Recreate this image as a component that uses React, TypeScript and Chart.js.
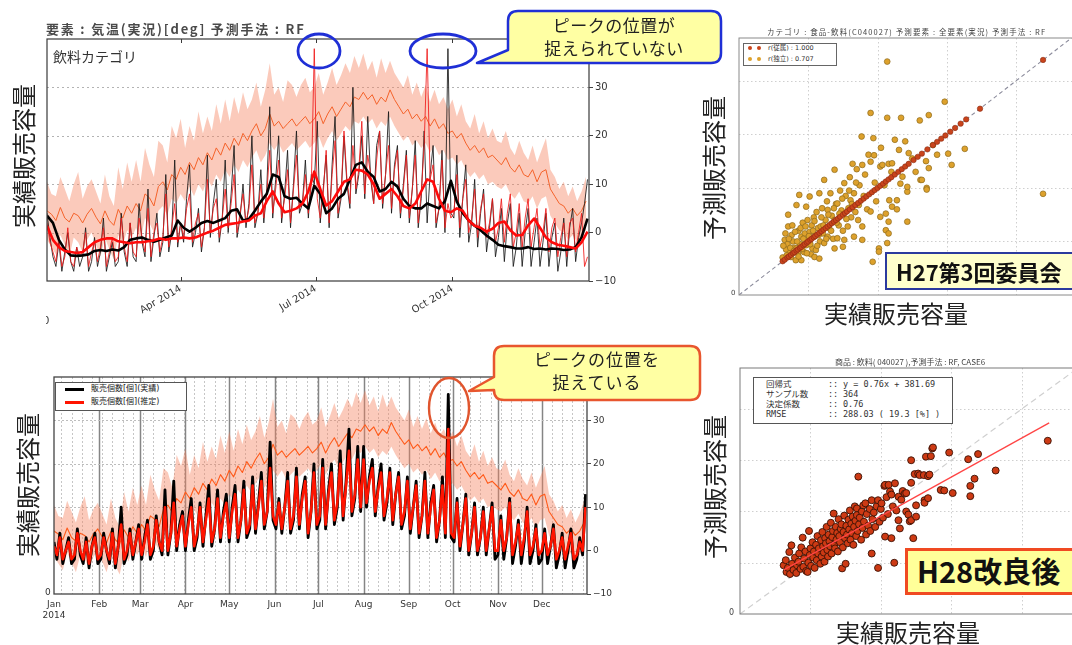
import React, { useEffect, useRef } from 'react';
import { Chart, registerables } from 'chart.js';
Chart.register(...registerables);

// ---------------- data ----------------
// daily temperature 2014, sampled every 3 days (deg C)
const TEMP_STEP = 3;
const TEMP_MEAN = [
  4.5, 3.8, 2.5, 5.2, 3.0, 2.2, 4.0, 3.5, 2.0, 3.8, 5.0,
  3.2, 1.8, 4.5, 2.5, 1.5, 4.8, 3.0, 5.5, 4.0,
  6.0, 4.5, 8.0, 7.2, 5.5, 9.5, 10.5, 8.8, 12.0, 11.0,
  13.5, 12.0, 14.5, 13.0, 15.5, 14.0, 16.5, 15.0, 17.5, 16.0,
  18.5, 17.0, 19.5, 18.0, 20.5, 19.0, 21.0, 22.5, 20.0, 21.5,
  24.5, 22.0, 23.0, 21.5, 22.5, 23.5, 22.0, 23.0, 24.0, 22.5,
  23.5, 25.0, 22.5, 24.5, 26.0, 24.0, 25.5, 27.0, 26.0, 28.0, 27.5,
  29.0, 27.5, 28.5, 26.5, 28.0, 27.0, 29.5, 27.5, 26.0, 24.5,
  25.5, 23.5, 24.5, 23.0, 24.0, 22.0, 23.5, 21.5, 22.5, 20.5,
  21.0, 19.5, 20.5, 18.5, 17.0, 18.0, 16.5, 17.5, 15.5, 16.0, 15.0,
  14.0, 15.5, 13.5, 12.5, 14.0, 12.0, 11.5, 13.0, 10.5, 12.5,
  13.0, 9.0, 7.5, 6.0, 5.5, 4.0, 5.0, 3.5, 4.5, 6.5,
];
const TEMP_HIGH = [
  10.5, 8.0, 7.5, 11.5, 9.0, 6.5, 10.0, 12.5, 7.0, 9.5, 11.0,
  8.5, 6.0, 12.0, 7.5, 5.5, 13.5, 9.0, 14.5, 10.5,
  15.0, 10.5, 17.5, 14.0, 11.5, 19.0, 18.0, 14.5, 22.0, 19.5,
  23.5, 17.5, 22.0, 19.0, 25.0, 20.5, 24.0, 21.0, 26.5, 22.5,
  27.5, 23.0, 28.0, 24.5, 29.0, 25.5, 27.5, 31.0, 26.0, 29.5,
  35.0, 28.5, 30.0, 27.0, 31.5, 30.5, 28.0, 30.5, 32.0, 29.0,
  30.0, 33.0, 28.5, 31.0, 34.0, 30.5, 32.5, 35.0, 33.0, 36.5, 34.0,
  37.0, 33.5, 35.5, 32.0, 36.0, 33.0, 35.5, 33.0, 31.5, 30.0,
  32.5, 28.5, 31.0, 28.0, 30.5, 27.0, 29.5, 26.5, 28.0, 25.5,
  27.5, 24.0, 26.5, 23.0, 21.5, 24.5, 20.5, 23.0, 19.5, 21.5, 19.0,
  18.5, 21.0, 17.5, 16.0, 19.0, 16.5, 15.0, 18.0, 14.5, 17.0,
  19.5, 13.0, 11.5, 9.0, 10.5, 7.5, 9.5, 6.5, 8.5, 11.5,
];
const TEMP_LOW = [
  -1.5, -3.0, -4.5, -0.5, -2.5, -5.0, -1.0, -2.0, -4.0, -1.5, 0.0,
  -2.5, -5.0, -1.0, -3.5, -5.5, -0.5, -2.5, 0.5, -1.0,
  1.0, -1.5, 3.0, 2.0, 0.0, 4.5, 5.5, 3.5, 7.0, 6.0,
  8.0, 6.5, 9.5, 7.5, 10.0, 8.5, 11.0, 9.5, 12.0, 10.5,
  13.0, 11.5, 14.0, 12.5, 15.0, 13.5, 15.5, 17.0, 14.5, 16.0,
  18.5, 17.0, 18.5, 16.5, 17.5, 18.5, 17.0, 18.0, 19.0, 17.5,
  18.5, 20.0, 17.5, 19.5, 21.0, 19.0, 20.5, 22.0, 21.0, 23.0, 22.5,
  24.0, 22.5, 23.5, 21.5, 23.0, 22.0, 24.0, 22.0, 20.5, 19.0,
  20.0, 18.0, 19.0, 17.5, 18.5, 16.5, 18.0, 16.0, 17.0, 15.0,
  15.5, 14.0, 15.0, 13.0, 11.5, 12.5, 11.0, 12.0, 10.0, 10.5, 9.5,
  9.0, 10.0, 8.0, 7.0, 8.5, 6.5, 6.0, 7.5, 5.0, 7.0,
  7.5, 3.5, 2.0, 0.5, 0.0, -1.5, -0.5, -2.0, -1.0, 0.5,
];

// sales volume (relative units, 0 = bottom of the plot), sampled every 2 days
const SALES_STEP = 2;
const TOP_ACTUAL = [
  14, 9, 5, 3, 8, 2, 6, 10, 4, 2, 7, 3, 5, 11, 2, 4,
  9, 3, 6, 13, 2, 5, 8, 3, 4, 14, 6, 3, 12, 5,
  4, 16, 8, 5, 19, 4, 9, 14, 5, 8, 22, 6, 10, 25, 7,
  12, 8, 17, 24, 7, 10, 15, 6, 11, 26, 9, 16, 21, 8, 13,
  25, 10, 18, 28, 9, 13, 20, 11, 16, 30, 11, 14, 23, 12, 19, 36,
  13, 21, 30, 12, 18, 27, 11, 20, 31, 14, 16, 25, 13, 22, 20,
  33, 12, 19, 26, 11, 24, 34, 13, 17, 30, 20, 15, 40, 18, 22,
  30, 17, 34, 21, 16, 28, 31, 15, 22, 35, 14, 24, 28, 13, 20, 27,
  12, 19, 29, 11, 17, 31, 12, 22, 28, 11, 15, 27, 10, 48, 14,
  13, 26, 9, 17, 24, 8, 12, 21, 7, 14, 19, 6, 11, 17, 5,
  9, 15, 4, 12, 16, 3, 7, 14, 3, 10, 15, 3, 8, 13, 3,
  8, 14, 3, 9, 12, 2, 6, 13, 3, 11, 15, 4, 9, 12, 16, 21,
];
const TOP_PRED = [
  12, 8, 6, 4, 9, 3, 5, 11, 4, 3, 7, 5, 6, 10, 3, 6,
  8, 4, 7, 11, 3, 6, 9, 4, 5, 13, 7, 4, 12, 6,
  5, 13, 9, 6, 15, 5, 10, 12, 6, 9, 18, 7, 11, 16, 8,
  12, 9, 15, 18, 8, 12, 14, 7, 11, 21, 10, 15, 17, 9, 13,
  19, 11, 16, 22, 10, 14, 18, 12, 15, 24, 12, 14, 20, 13, 18, 27,
  14, 19, 25, 13, 17, 23, 12, 19, 26, 15, 16, 22, 14, 20, 48,
  17, 13, 18, 27, 12, 22, 29, 14, 18, 31, 21, 16, 28, 19, 23,
  33, 18, 26, 22, 16, 25, 31, 16, 22, 28, 15, 23, 27, 14, 19, 26,
  13, 19, 26, 12, 18, 28, 48, 21, 24, 12, 15, 25, 11, 16, 13,
  14, 22, 11, 17, 21, 10, 13, 19, 9, 15, 18, 9, 12, 17, 8,
  11, 17, 8, 14, 18, 7, 10, 16, 7, 13, 17, 7, 11, 15, 7,
  10, 15, 6, 11, 13, 5, 9, 12, 5, 12, 13, 6, 10, 14, 3, 5,
];
// moving averages, every 4 days
const MA_STEP = 4;
const TOP_ACTUAL_MA = [
  13.5, 12.0, 8.5, 6.5, 5.3, 5.2, 5.3, 5.5, 6.2, 6.4,
  6.2, 6.5, 6.3, 7.0, 8.5, 8.8, 9.0, 8.5, 8.1, 8.5,
  9.0, 9.4, 12.5, 11.0, 10.2, 11.0, 12.0, 12.4, 12.0, 12.5,
  13.0, 14.5, 14.8, 12.5, 12.8, 14.5, 16.4, 18.0, 22.0, 21.5,
  17.5, 17.0, 17.2, 16.0, 15.0, 19.7, 18.0, 14.0, 15.0, 17.0,
  18.0, 21.0, 24.0, 24.5, 22.6, 21.5, 18.5, 19.0, 20.5, 19.5,
  17.0, 15.5, 15.0, 15.0, 16.0, 15.5, 15.0, 16.5, 20.7, 16.4,
  14.0, 12.5, 11.4, 10.5, 9.4, 8.5, 7.5, 7.2, 7.0, 6.7,
  6.7, 7.0, 6.6, 6.7, 6.5, 6.7, 6.6, 6.4, 6.5, 7.0,
  9.0, 12.9,
];
const TOP_PRED_MA = [
  11.4, 8.5, 7.0, 6.2, 6.0, 5.8, 6.0, 7.0, 8.0, 8.5,
  8.8, 8.8, 8.2, 8.0, 7.8, 8.0, 8.0, 8.2, 8.4, 8.8,
  8.5, 8.8, 8.8, 9.0, 8.8, 9.0, 9.5, 10.0, 10.4, 11.0,
  11.6, 11.8, 12.0, 12.3, 12.5, 13.5, 14.0, 16.5, 18.5, 16.0,
  14.2, 14.5, 15.0, 16.0, 18.5, 22.6, 19.0, 15.6, 16.5, 18.5,
  20.5, 21.0, 23.0, 22.8, 22.0, 20.0, 17.0, 18.0, 19.0, 17.5,
  15.5, 15.0, 16.0, 18.5, 21.0, 20.5, 17.0, 14.5, 14.2, 15.0,
  14.5, 12.5, 11.4, 11.0, 10.2, 10.8, 12.0, 12.3, 10.5, 9.4,
  9.5, 11.5, 12.9, 11.0, 9.0, 8.0, 7.5, 7.3, 7.0, 6.7,
  8.0, 10.2,
];
const BOT_ACTUAL = [
  12, 8, 14, 7, 10, 13, 7, 8, 15, 9, 7, 13, 6, 11, 14, 7,
  8, 14, 10, 7, 15, 6, 11, 20, 7, 9, 15, 8, 12, 16,
  8, 13, 17, 8, 10, 18, 12, 9, 24, 9, 14, 26, 10, 16, 19,
  10, 17, 22, 10, 13, 21, 11, 18, 25, 11, 15, 24, 12, 19, 23,
  12, 20, 25, 12, 17, 26, 13, 15, 27, 14, 21, 28, 15, 19, 35, 17,
  15, 22, 14, 20, 28, 14, 17, 29, 15, 23, 27, 13, 19, 30, 15,
  17, 31, 15, 24, 30, 16, 20, 33, 17, 26, 38, 18, 22, 34, 19,
  34, 20, 27, 31, 18, 25, 30, 17, 21, 29, 16, 23, 28, 15, 18, 27,
  14, 20, 26, 13, 18, 28, 13, 21, 25, 12, 17, 27, 13, 46, 13,
  12, 22, 10, 16, 23, 9, 14, 21, 9, 13, 20, 9, 15, 21, 8,
  9, 18, 8, 13, 22, 7, 11, 17, 7, 12, 20, 7, 10, 16, 7,
  8, 15, 7, 11, 16, 6, 9, 14, 6, 10, 15, 6, 8, 13, 9, 23,
];
const BOT_PRED = [
  11, 9, 13, 8, 10, 12, 8, 9, 14, 10, 8, 12, 7, 11, 13, 8,
  9, 13, 10, 8, 14, 7, 11, 16, 8, 10, 14, 9, 12, 15,
  9, 12, 16, 9, 11, 17, 12, 10, 20, 10, 14, 21, 11, 15, 18,
  11, 16, 20, 11, 14, 20, 12, 17, 22, 12, 15, 22, 13, 18, 21,
  13, 19, 23, 13, 17, 24, 14, 16, 25, 15, 20, 26, 16, 19, 29, 18,
  16, 21, 15, 20, 26, 15, 18, 27, 16, 22, 26, 14, 19, 28, 16,
  18, 29, 16, 23, 28, 17, 21, 30, 18, 25, 33, 19, 23, 31, 20,
  31, 21, 26, 29, 19, 24, 28, 18, 22, 28, 17, 23, 27, 16, 19, 26,
  15, 20, 25, 14, 18, 26, 14, 20, 24, 13, 17, 25, 14, 38, 14,
  13, 21, 11, 16, 22, 10, 14, 20, 10, 13, 19, 10, 15, 20, 10,
  10, 17, 10, 13, 21, 9, 12, 16, 9, 13, 19, 9, 11, 15, 9,
  10, 14, 9, 11, 15, 8, 10, 13, 8, 11, 14, 8, 9, 12, 10, 20,
];

// axis ticks
const TOP_TICK_DAYS = [90, 181, 273];
const TOP_TICK_LABELS = ['Apr 2014', 'Jul 2014', 'Oct 2014'];
const MONTH_DAYS = [0, 31, 59, 90, 120, 151, 181, 212, 243, 273, 304, 334];
const MONTH_LABELS = ['Jan', 'Feb', 'Mar', 'Apr', 'May', 'Jun', 'Jul', 'Aug', 'Sep', 'Oct', 'Nov', 'Dec'];
const TEMP_TICKS = [-10, 0, 10, 20, 30];
const SCATTER_GRID = [1, 2, 3, 4];

// H27 scatter (actual, predicted) in thousands
const H27_DEP = [
  0.63, 0.66, 0.70, 0.72, 0.75, 0.78, 0.80, 0.83, 0.85, 0.88, 0.90, 0.93, 0.95, 0.98, 1.00,
  1.03, 1.05, 1.08, 1.10, 1.13, 1.16, 1.19, 1.22, 1.25, 1.28, 1.31, 1.34, 1.37, 1.40, 1.43,
  1.46, 1.50, 1.53, 1.56, 1.60, 1.64, 1.68, 1.72, 1.76, 1.80, 1.84, 1.88, 1.92, 1.96, 2.00,
  2.04, 2.08, 2.12, 2.16, 2.20, 2.25, 2.30, 2.35, 2.40, 2.45, 2.52, 2.58, 2.64, 2.72, 2.80,
  2.86, 2.92, 2.98, 3.05, 3.12, 3.20, 3.28, 3.48, 4.39,
];
const H27_IND = [
  [0.63, 0.70], [0.66, 1.03], [0.68, 0.85], [0.70, 0.95], [0.71, 1.28], [0.71, 1.50], [0.73, 0.78],
  [0.75, 0.71], [0.76, 1.12], [0.78, 1.00], [0.80, 0.88], [0.82, 0.65], [0.83, 0.87], [0.83, 1.68],
  [0.85, 0.78], [0.86, 1.20], [0.87, 1.87], [0.88, 0.95], [0.90, 1.09], [0.90, 0.65], [0.92, 1.35],
  [0.94, 0.80], [0.95, 1.15], [0.97, 0.93], [0.97, 1.65], [0.99, 1.40], [1.00, 1.05], [1.02, 1.84],
  [1.02, 1.18], [1.04, 0.76], [1.05, 1.30], [1.06, 0.87], [1.08, 1.45], [1.09, 0.71], [1.10, 1.10],
  [1.11, 0.84], [1.12, 1.55], [1.14, 1.25], [1.16, 0.68], [1.16, 1.90], [1.17, 1.00], [1.18, 1.28],
  [1.20, 1.62], [1.21, 1.15], [1.23, 0.97], [1.23, 2.15], [1.25, 1.40], [1.27, 1.75], [1.28, 1.09],
  [1.28, 1.59], [1.30, 1.25], [1.32, 1.90], [1.34, 1.48], [1.36, 1.05], [1.38, 0.87], [1.38, 1.40],
  [1.38, 2.34], [1.40, 1.70], [1.42, 1.71], [1.42, 1.06], [1.44, 1.30], [1.46, 1.95], [1.48, 1.58],
  [1.50, 0.90], [1.50, 1.20], [1.52, 1.03], [1.52, 2.09], [1.54, 1.85], [1.57, 1.28], [1.58, 1.62],
  [1.60, 2.20], [1.61, 1.77], [1.62, 1.45], [1.64, 2.45], [1.66, 1.09], [1.66, 1.90], [1.68, 1.55],
  [1.70, 2.35], [1.73, 1.68], [1.74, 2.05], [1.77, 2.96], [1.78, 1.28], [1.78, 1.03], [1.78, 2.43],
  [1.80, 1.85], [1.82, 2.25], [1.85, 1.60], [1.87, 2.62], [1.90, 1.56], [1.90, 2.49], [1.90, 3.40],
  [1.93, 0.62], [1.94, 2.93], [1.95, 2.61], [1.96, 2.10], [1.98, 1.75], [2.02, 0.87], [2.02, 0.81],
  [2.04, 1.46], [2.04, 2.40], [2.05, 2.75], [2.07, 2.43], [2.10, 2.05], [2.12, 1.21], [2.12, 1.52],
  [2.14, 0.97], [2.14, 3.31], [2.14, 4.36], [2.16, 1.15], [2.16, 1.37], [2.16, 2.45], [2.17, 1.77],
  [2.20, 2.30], [2.21, 1.65], [2.21, 2.46], [2.25, 2.90], [2.28, 1.60], [2.28, 1.77], [2.31, 2.71],
  [2.33, 2.08], [2.34, 3.31], [2.36, 2.21], [2.40, 2.87], [2.43, 1.37], [2.43, 1.93], [2.43, 2.02],
  [2.45, 2.65], [2.50, 2.55], [2.55, 2.30], [2.61, 3.26], [2.62, 2.15], [2.64, 2.15], [2.70, 2.50],
  [2.71, 2.00], [2.71, 1.97], [2.74, 2.37], [2.74, 3.36], [2.80, 2.80], [2.86, 2.62], [2.97, 3.61],
  [3.02, 2.64], [3.07, 2.43], [3.26, 2.73], [4.39, 1.89],
  [0.64, 0.92], [0.67, 1.15], [0.69, 0.74], [0.72, 1.05], [0.74, 0.88], [0.77, 1.30], [0.79, 0.82],
  [0.81, 1.18], [0.84, 1.00], [0.86, 0.72], [0.89, 1.25], [0.91, 0.86], [0.93, 1.05], [0.96, 1.28],
  [0.98, 0.78], [1.01, 1.10], [1.03, 0.95], [1.07, 1.20], [1.09, 1.38], [1.13, 0.92], [1.15, 1.12],
  [1.19, 1.45], [1.22, 1.30], [1.26, 1.05], [1.29, 1.50], [1.33, 1.20], [1.37, 1.62], [1.41, 1.35],
  [1.45, 1.52], [1.49, 1.80], [1.55, 1.42], [1.59, 1.95], [1.63, 1.70], [1.69, 2.10], [1.72, 1.40],
];
// H28 scatter (actual, predicted) in thousands
const H28_POINTS = [
  [0.62, 0.95], [0.65, 1.05], [0.66, 0.82], [0.68, 0.90], [0.70, 1.21], [0.71, 0.78], [0.73, 1.34],
  [0.74, 0.98], [0.76, 0.86], [0.78, 1.10], [0.80, 0.80], [0.81, 0.95], [0.83, 1.02], [0.84, 1.18],
  [0.86, 0.88], [0.87, 1.30], [0.89, 1.49], [0.90, 0.92], [0.91, 1.08], [0.93, 1.22], [0.94, 0.84],
  [0.96, 0.82], [0.97, 1.00], [0.98, 1.62], [0.99, 1.15], [1.00, 1.28], [1.01, 0.94], [1.03, 1.40],
  [1.04, 1.10], [1.05, 1.22], [1.06, 0.90], [1.08, 1.35], [1.09, 1.05], [1.10, 1.52], [1.11, 1.18],
  [1.12, 1.28], [1.14, 0.98], [1.15, 1.44], [1.16, 1.12], [1.17, 1.60], [1.18, 1.32], [1.19, 1.20],
  [1.20, 1.02], [1.21, 1.48], [1.22, 1.38], [1.23, 1.70], [1.24, 1.25], [1.25, 1.12], [1.26, 1.55],
  [1.27, 1.42], [1.28, 1.32], [1.29, 1.78], [1.30, 1.18], [1.31, 1.50], [1.32, 1.62], [1.33, 1.96],
  [1.34, 1.36], [1.35, 1.28], [1.36, 1.70], [1.37, 1.45], [1.38, 1.58], [1.39, 1.22], [1.40, 1.85],
  [1.41, 1.52], [1.42, 1.40], [1.43, 1.66], [1.44, 1.75], [1.45, 0.89], [1.46, 1.30], [1.47, 1.60],
  [1.48, 1.92], [1.49, 1.48], [1.50, 0.98], [1.51, 1.72], [1.52, 1.55], [1.53, 1.38], [1.54, 1.84],
  [1.55, 1.65], [1.56, 2.02], [1.57, 1.45], [1.58, 1.76], [1.59, 1.58], [1.60, 1.90], [1.61, 1.35],
  [1.62, 1.70], [1.63, 2.10], [1.64, 1.82], [1.65, 1.52], [1.66, 2.06], [1.66, 1.93], [1.67, 1.62],
  [1.68, 2.68], [1.69, 1.75], [1.70, 1.88], [1.72, 1.45], [1.73, 2.00], [1.74, 1.68], [1.75, 2.12],
  [1.76, 1.80], [1.78, 2.16], [1.79, 1.55], [1.80, 1.95], [1.82, 1.72], [1.84, 2.05], [1.85, 1.62],
  [1.87, 2.22], [1.87, 1.18], [1.88, 1.85], [1.90, 1.98], [1.92, 1.70], [1.94, 2.10], [1.96, 2.22],
  [1.96, 0.90], [1.98, 1.80], [2.00, 2.05], [2.01, 2.16], [2.03, 1.88], [2.05, 2.50], [2.06, 2.52],
  [2.06, 1.51], [2.08, 2.28], [2.10, 1.95], [2.11, 2.52], [2.13, 2.39], [2.15, 1.48], [2.15, 2.33],
  [2.17, 2.10], [2.19, 1.00], [2.20, 2.55], [2.22, 2.02], [2.25, 1.83], [2.25, 2.29], [2.27, 1.67],
  [2.29, 2.23], [2.31, 2.40], [2.34, 2.35], [2.36, 2.36], [2.36, 2.00], [2.39, 1.94], [2.41, 1.81],
  [2.43, 2.56], [2.43, 3.00], [2.43, 1.83], [2.46, 1.48], [2.48, 2.73], [2.50, 1.90], [2.50, 2.12],
  [2.53, 2.74], [2.55, 2.71], [2.61, 2.71], [2.62, 2.22], [2.62, 2.17], [2.64, 3.07], [2.67, 2.69],
  [2.67, 2.26], [2.69, 2.72], [2.71, 3.08], [2.73, 3.23], [2.74, 3.25], [2.85, 2.42], [2.90, 2.41],
  [2.97, 3.15], [3.02, 2.36], [3.24, 3.02], [3.27, 2.50], [3.27, 2.30], [3.33, 2.64], [3.38, 3.12],
  [3.63, 2.80], [4.37, 3.38],
];
const REG_LINE = [[0.62, 0.86], [4.39, 3.73]];
const DIAG_LINE = [[0, 0], [5.3, 5.3]];

// ---------------- helpers ----------------
const JP = '"Noto Sans CJK JP", "DejaVu Sans", sans-serif';
const MPL = '"DejaVu Sans", "Noto Sans CJK JP", sans-serif';
const MONO = '"DejaVu Sans Mono", "Noto Sans CJK JP", monospace';
const series = (vals: number[], step: number) => vals.map((v, i) => ({ x: i * step, y: v }));
const pairs = (p: number[][]) => p.map(([x, y]) => ({ x, y }));
const fmtTemp = (v: number) => (v < 0 ? '\u2212' + Math.abs(v) : String(v));
const WEEK_DAYS: number[] = [];
for (let d = 5; d < 365; d += 7) WEEK_DAYS.push(d);

type LineSet = { values: number[]; color: string; dash: number[]; width: number; axis?: string };
function decoPlugin(o: { xAxis: string; v?: LineSet[]; h?: LineSet[]; frame: string; frameWidth: number; xTicks?: number[] }) {
  return {
    id: 'deco',
    beforeDatasetsDraw(chart: any) {
      const { ctx, chartArea: a } = chart;
      ctx.save();
      for (const s of o.v || []) {
        ctx.strokeStyle = s.color; ctx.lineWidth = s.width; ctx.setLineDash(s.dash);
        for (const val of s.values) {
          const x = Math.round(chart.scales[o.xAxis].getPixelForValue(val)) + 0.5;
          if (x < a.left + 1 || x > a.right - 1) continue;
          ctx.beginPath(); ctx.moveTo(x, a.top); ctx.lineTo(x, a.bottom); ctx.stroke();
        }
      }
      for (const s of o.h || []) {
        ctx.strokeStyle = s.color; ctx.lineWidth = s.width; ctx.setLineDash(s.dash);
        for (const val of s.values) {
          const y = Math.round(chart.scales[s.axis as string].getPixelForValue(val)) + 0.5;
          if (y < a.top + 1 || y > a.bottom - 1) continue;
          ctx.beginPath(); ctx.moveTo(a.left, y); ctx.lineTo(a.right, y); ctx.stroke();
        }
      }
      ctx.restore();
    },
    afterDatasetsDraw(chart: any) {
      const { ctx, chartArea: a } = chart;
      ctx.save();
      ctx.setLineDash([]);
      ctx.strokeStyle = o.frame; ctx.lineWidth = o.frameWidth;
      ctx.strokeRect(a.left, a.top, a.right - a.left, a.bottom - a.top);
      ctx.lineWidth = 1;
      for (const val of o.xTicks || []) {
        const x = Math.round(chart.scales[o.xAxis].getPixelForValue(val)) + 0.5;
        ctx.beginPath();
        ctx.moveTo(x, a.bottom); ctx.lineTo(x, a.bottom - 4);
        ctx.moveTo(x, a.top); ctx.lineTo(x, a.top + 4);
        ctx.stroke();
      }
      ctx.restore();
    },
  };
}

const BAND = 'rgba(246,128,92,0.42)';
const baseOpts = {
  animation: false,
  responsive: false,
  events: [],
  plugins: { legend: { display: false }, tooltip: { enabled: false } },
  elements: { point: { radius: 0 }, line: { tension: 0, borderJoinStyle: 'round' } },
};

function tempAxis(width: number, size: number) {
  return {
    position: 'right', min: -10, max: 40,
    afterBuildTicks: (s: any) => { s.ticks = TEMP_TICKS.map((v) => ({ value: v })); },
    afterFit: (s: any) => { s.width = width; },
    ticks: { callback: (v: number) => fmtTemp(v), font: { family: MPL, size }, color: '#333', padding: 2 },
    grid: { drawOnChartArea: false, tickLength: 4, color: '#444' },
    border: { display: false },
  };
}

function topConfig(): any {
  return {
    type: 'line',
    data: {
      datasets: [
        { data: series(TOP_PRED_MA, MA_STEP), borderColor: '#FF0A0A', borderWidth: 2.6, yAxisID: 'ys' },
        { data: series(TOP_ACTUAL_MA, MA_STEP), borderColor: '#000000', borderWidth: 2.6, yAxisID: 'ys' },
        { data: series(TOP_PRED, SALES_STEP), borderColor: 'rgba(240,25,25,0.85)', borderWidth: 1, yAxisID: 'ys' },
        { data: series(TOP_ACTUAL, SALES_STEP), borderColor: 'rgba(25,25,25,0.85)', borderWidth: 1, yAxisID: 'ys' },
        { data: series(TEMP_MEAN, TEMP_STEP), borderColor: '#F4622A', borderWidth: 1, yAxisID: 't' },
        { data: series(TEMP_HIGH, TEMP_STEP), borderWidth: 0, borderColor: 'rgba(0,0,0,0)', backgroundColor: BAND, fill: '+1', yAxisID: 't' },
        { data: series(TEMP_LOW, TEMP_STEP), borderWidth: 0, borderColor: 'rgba(0,0,0,0)', fill: false, yAxisID: 't' },
      ],
    },
    options: {
      ...baseOpts,
      layout: { padding: { left: 47, top: 39, right: 0, bottom: 0 } },
      scales: {
        x: {
          type: 'linear', min: 0, max: 365,
          afterBuildTicks: (s: any) => { s.ticks = TOP_TICK_DAYS.map((v) => ({ value: v })); },
          afterFit: (s: any) => { s.height = 64; },
          ticks: { autoSkip: false, minRotation: 30, maxRotation: 30, padding: -6,
            callback: (_v: number, i: number) => TOP_TICK_LABELS[i], font: { family: MPL, size: 10 }, color: '#333' },
          grid: { display: false }, border: { display: false },
        },
        ys: { display: false, min: 0, max: 50 },
        t: tempAxis(51, 10),
      },
    },
    plugins: [decoPlugin({
      xAxis: 'x', frame: '#3a3a3a', frameWidth: 1.2, xTicks: TOP_TICK_DAYS,
      h: [{ axis: 't', values: [0, 10, 20, 30], color: '#b3b3b3', dash: [2, 3], width: 1 }],
    })],
  };
}

function bottomConfig(): any {
  return {
    type: 'line',
    data: {
      datasets: [
        { data: series(BOT_PRED, SALES_STEP), borderColor: '#FF1400', borderWidth: 2.6, yAxisID: 'ys' },
        { data: series(BOT_ACTUAL, SALES_STEP), borderColor: '#000000', borderWidth: 2.8, yAxisID: 'ys' },
        { data: series(TEMP_MEAN, TEMP_STEP), borderColor: '#FF5A1A', borderWidth: 1.1, yAxisID: 't' },
        { data: series(TEMP_HIGH, TEMP_STEP), borderWidth: 0, borderColor: 'rgba(0,0,0,0)', backgroundColor: BAND, fill: '+1', yAxisID: 't' },
        { data: series(TEMP_LOW, TEMP_STEP), borderWidth: 0, borderColor: 'rgba(0,0,0,0)', fill: false, yAxisID: 't' },
      ],
    },
    options: {
      ...baseOpts,
      layout: { padding: { left: 54, top: 32, right: 0, bottom: 0 } },
      scales: {
        x: {
          type: 'linear', min: 0, max: 365,
          afterBuildTicks: (s: any) => { s.ticks = MONTH_DAYS.map((v) => ({ value: v })); },
          afterFit: (s: any) => { s.height = 51; },
          ticks: { autoSkip: false, minRotation: 0, maxRotation: 0, padding: -3,
            callback: (_v: number, i: number) => (i === 0 ? [MONTH_LABELS[0], '2014'] : MONTH_LABELS[i]),
            font: { family: MPL, size: 9 }, color: '#333' },
          grid: { display: false }, border: { display: false },
        },
        ys: { display: false, min: 0, max: 50 },
        t: tempAxis(53, 9),
      },
    },
    plugins: [decoPlugin({
      xAxis: 'x', frame: '#444', frameWidth: 1.3,
      v: [
        { values: WEEK_DAYS, color: '#c6c6c6', dash: [2, 2], width: 1 },
        { values: MONTH_DAYS, color: '#858585', dash: [], width: 1.5 },
      ],
      h: [{ axis: 't', values: [0, 10, 20, 30], color: '#bdbdbd', dash: [2, 2], width: 1 }],
    })],
  };
}

function scatterConfig(datasets: any[], pad: any, xMax: number, yMax: number, frame: string): any {
  return {
    type: 'scatter',
    data: { datasets },
    options: {
      ...baseOpts,
      layout: { padding: pad },
      scales: {
        x: { type: 'linear', display: false, min: 0, max: xMax },
        y: { type: 'linear', display: false, min: 0, max: yMax },
      },
    },
    plugins: [decoPlugin({
      xAxis: 'x', frame, frameWidth: 1,
      v: [{ values: SCATTER_GRID, color: '#cfcfcf', dash: [1.5, 2.5], width: 1 }],
      h: [{ axis: 'y', values: SCATTER_GRID, color: '#cfcfcf', dash: [1.5, 2.5], width: 1 }],
    })],
  };
}

function h27Config(): any {
  return scatterConfig([
    { data: H27_DEP.map((v) => ({ x: v, y: v })), pointRadius: 2.7, backgroundColor: '#C9441C', borderColor: '#8A2A10', borderWidth: 0.6 },
    { data: pairs(H27_IND), pointRadius: 2.9, backgroundColor: '#DDA12C', borderColor: '#8C6A1C', borderWidth: 0.7 },
    { data: pairs(DIAG_LINE), showLine: true, pointRadius: 0, borderColor: '#8c8c9c', borderWidth: 1.1, borderDash: [4, 3] },
  ], { left: 49, top: 38, right: 2, bottom: 25 }, 5.0, 4.8, '#8a8a8a');
}

function h28Config(): any {
  return scatterConfig([
    { data: pairs(REG_LINE), showLine: true, pointRadius: 0, borderColor: '#FF4545', borderWidth: 1.3 },
    { data: pairs(H28_POINTS), pointRadius: 3.5, backgroundColor: '#CD3A14', borderColor: '#3A1206', borderWidth: 0.9 },
    { data: pairs(DIAG_LINE), showLine: true, pointRadius: 0, borderColor: '#cfcfcf', borderWidth: 1.2, borderDash: [6, 4] },
  ], { left: 50, top: 38, right: 1, bottom: 31 }, 4.9, 4.8, '#7a7a7a');
}

// ---------------- overlay components ----------------
const abs = (x: number, y: number, extra: any = {}) => ({ position: 'absolute' as const, left: x, top: y, whiteSpace: 'nowrap' as const, lineHeight: 1, ...extra });

function VLabel({ cx, cy, text }: { cx: number; cy: number; text: string }) {
  return (
    <div style={abs(cx, cy, { fontFamily: JP, fontSize: 24, color: '#222', transform: 'translate(-50%,-50%) rotate(-90deg)' })}>{text}</div>
  );
}
function HLabel({ cx, cy, text }: { cx: number; cy: number; text: string }) {
  return (
    <div style={abs(cx, cy, { fontFamily: JP, fontSize: 24, color: '#222', transform: 'translate(-50%,-50%)' })}>{text}</div>
  );
}

const H28_STATS = [
  ['回帰式', 'y = 0.76x + 381.69'],
  ['サンプル数', '364'],
  ['決定係数', '0.76'],
  ['RMSE', '288.03 ( 19.3 [%] )'],
];

export default function App() {
  const r1 = useRef<HTMLCanvasElement>(null);
  const r2 = useRef<HTMLCanvasElement>(null);
  const r3 = useRef<HTMLCanvasElement>(null);
  const r4 = useRef<HTMLCanvasElement>(null);

  useEffect(() => {
    document.body.style.margin = '0';
    const charts = [
      new Chart(r1.current as HTMLCanvasElement, topConfig()),
      new Chart(r2.current as HTMLCanvasElement, bottomConfig()),
      new Chart(r3.current as HTMLCanvasElement, h27Config()),
      new Chart(r4.current as HTMLCanvasElement, h28Config()),
    ];
    return () => charts.forEach((c) => c.destroy());
  }, []);

  const legendRow = { position: 'absolute' as const, fontFamily: MPL, fontSize: 8, color: '#222', lineHeight: 1, whiteSpace: 'nowrap' as const };

  return (
    <div style={{ position: 'relative', width: 1072, height: 645, overflow: 'hidden', background: '#fff' }}>
      <canvas ref={r1} width={640} height={345} style={{ position: 'absolute', left: 0, top: 0 }} />
      <canvas ref={r2} width={640} height={300} style={{ position: 'absolute', left: 0, top: 345 }} />
      <canvas ref={r3} width={400} height={320} style={{ position: 'absolute', left: 690, top: 0 }} />
      <canvas ref={r4} width={400} height={315} style={{ position: 'absolute', left: 690, top: 330 }} />

      {/* top-left texts */}
      <div style={abs(46, 22, { fontFamily: JP, fontSize: 13, fontWeight: 700, color: '#4a4a4a', letterSpacing: 1.8 })}>要素 : 気温(実況)[deg] 予測手法 : RF</div>
      <div style={abs(53, 49, { fontFamily: JP, fontSize: 14, color: '#333' })}>飲料カテゴリ</div>
      <div style={abs(46, 316, { width: 6, height: 12, overflow: 'hidden' })}>
        <div style={abs(-3, 0, { fontFamily: MPL, fontSize: 10, color: '#333' })}>0</div>
      </div>
      <VLabel cx={23} cy={156} text="実績販売容量" />

      {/* bottom-left texts */}
      <VLabel cx={27} cy={485} text="実績販売容量" />
      <div style={abs(45, 588, { fontFamily: MPL, fontSize: 9, color: '#333' })}>0</div>
      <div style={{ position: 'absolute', left: 55, top: 382, width: 132, height: 29, border: '1px solid #555', background: '#fff', boxSizing: 'border-box' }} />
      <div style={{ position: 'absolute', left: 65, top: 388, width: 19, height: 3, background: '#000' }} />
      <div style={{ ...legendRow, left: 91, top: 385 }}>販売個数[個](実績)</div>
      <div style={{ position: 'absolute', left: 65, top: 401, width: 19, height: 3, background: '#FF1400' }} />
      <div style={{ ...legendRow, left: 91, top: 398 }}>販売個数[個](推定)</div>

      {/* top-right texts */}
      <div style={abs(767, 28, { fontFamily: JP, fontSize: 7.5, color: '#444', letterSpacing: 1.1 })}>カテゴリ : 食品-飲料(C040027) 予測要素 : 全要素(実況) 予測手法 : RF</div>
      <div style={{ position: 'absolute', left: 743, top: 43, width: 94, height: 23, border: '1px solid #666', background: '#fff', boxSizing: 'border-box' }} />
      {[748, 757].map((x) => (
        <div key={'a' + x} style={{ position: 'absolute', left: x, top: 46, width: 4, height: 4, borderRadius: 2, background: '#C9441C' }} />
      ))}
      {[748, 757].map((x) => (
        <div key={'b' + x} style={{ position: 'absolute', left: x, top: 57, width: 4, height: 4, borderRadius: 2, background: '#DDA12C' }} />
      ))}
      <div style={abs(768, 45, { fontFamily: MPL, fontSize: 6.5, color: '#333' })}>r(従属) : 1.000</div>
      <div style={abs(768, 56, { fontFamily: MPL, fontSize: 6.5, color: '#333' })}>r(独立) : 0.707</div>
      <div style={abs(731, 290, { fontFamily: MPL, fontSize: 7, color: '#444' })}>0</div>
      <VLabel cx={713} cy={168} text="予測販売容量" />
      <HLabel cx={896} cy={313} text="実績販売容量" />
      <div style={{ position: 'absolute', left: 885, top: 252, width: 200, height: 38, border: '2px solid #2B3A9E', background: '#FFFFCC', boxSizing: 'border-box' }} />
      <div style={abs(896, 260, { fontFamily: JP, fontSize: 22, fontWeight: 700, color: '#111' })}>H27第3回委員会</div>

      {/* bottom-right texts */}
      <div style={abs(910, 358, { fontFamily: JP, fontSize: 8, color: '#444', transform: 'translateX(-50%)' })}>商品 : 飲料( 040027 ),予測手法 : RF, CASE6</div>
      <div style={{ position: 'absolute', left: 753, top: 377, width: 200, height: 47, border: '1px solid #555', background: '#fff', boxSizing: 'border-box' }} />
      {H28_STATS.map(([a, b], i) => (
        <React.Fragment key={a}>
          <div style={abs(766, 380 + i * 10, { fontFamily: MONO, fontSize: 8.5, color: '#333' })}>{a}</div>
          <div style={abs(828, 380 + i * 10, { fontFamily: MONO, fontSize: 8.5, color: '#333' })}>::</div>
          <div style={abs(843, 380 + i * 10, { fontFamily: MONO, fontSize: 8.5, color: '#333' })}>{b}</div>
        </React.Fragment>
      ))}
      <div style={abs(729, 609, { fontFamily: MPL, fontSize: 8, color: '#444' })}>0</div>
      <VLabel cx={714} cy={487} text="予測販売容量" />
      <HLabel cx={908} cy={632} text="実績販売容量" />
      <div style={{ position: 'absolute', left: 905, top: 548, width: 200, height: 47, border: '3px solid #F04A22', background: '#FFFF99', boxSizing: 'border-box' }} />
      <div style={abs(917, 556, { fontFamily: JP, fontSize: 29, fontWeight: 700, color: '#111' })}>H28改良後</div>

      {/* callouts and ellipses */}
      <svg width={1072} height={645} style={{ position: 'absolute', left: 0, top: 0, pointerEvents: 'none' }}>
        <ellipse cx={319} cy={51} rx={21} ry={17} fill="none" stroke="#1F2FD6" strokeWidth={2.8} />
        <ellipse cx={443} cy={51} rx={33} ry={17} fill="none" stroke="#1F2FD6" strokeWidth={2.8} />
        <path d="M 518 11 H 711 Q 721 11 721 21 V 53 Q 721 63 711 63 H 524 L 477 63 L 508 50 V 21 Q 508 11 518 11 Z"
          fill="#FFFFA3" stroke="#1F2FD6" strokeWidth={2.5} strokeLinejoin="round" />
        <text x={614} y={32} textAnchor="middle" fontSize={17} fontFamily={JP} fill="#222" style={{ letterSpacing: 0.5 }}>ピークの位置が</text>
        <text x={614} y={55} textAnchor="middle" fontSize={17} fontFamily={JP} fill="#222" style={{ letterSpacing: 0.5 }}>捉えられていない</text>

        <ellipse cx={449} cy={408} rx={20} ry={30} fill="none" stroke="#E0552E" strokeWidth={2.4} />
        <path d="M 504 346 H 690 Q 700 346 700 356 V 390 Q 700 400 690 400 H 504 Q 494 400 494 390 V 390 L 469 391 L 494 377 V 356 Q 494 346 504 346 Z"
          fill="#FFFFA3" stroke="#E8562E" strokeWidth={2.5} strokeLinejoin="round" />
        <text x={597} y={366} textAnchor="middle" fontSize={17} fontFamily={JP} fill="#222" style={{ letterSpacing: 1 }}>ピークの位置を</text>
        <text x={597} y={389} textAnchor="middle" fontSize={17} fontFamily={JP} fill="#222" style={{ letterSpacing: 1 }}>捉えている</text>
      </svg>
    </div>
  );
}
